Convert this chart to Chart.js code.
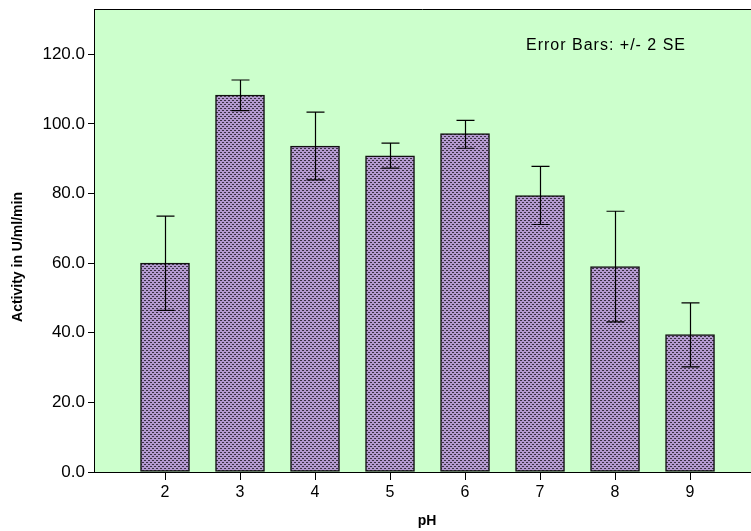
<!DOCTYPE html>
<html>
<head>
<meta charset="utf-8">
<script src="https://cdn.jsdelivr.net/npm/chart.js@4.4.1/dist/chart.umd.min.js"></script>
<style>
    html, body { margin: 0; padding: 0; background: #fff; }
    #activityChart { display: block; }
</style>
</head>
<body>
<canvas id="activityChart" width="751" height="531"></canvas>
<script>
// Chart data
const phLevels = [2, 3, 4, 5, 6, 7, 8, 9];
const activityMean = [60.0, 108.3, 93.6, 90.8, 97.2, 79.4, 59.0, 39.5];
const errorUpper = [73.5, 112.6, 103.4, 94.5, 101.0, 87.8, 74.9, 48.6];
const errorLower = [46.4, 103.8, 83.9, 87.3, 93.0, 71.1, 43.1, 30.2];
const yTickValues = [0, 20, 40, 60, 80, 100, 120];

/**
 * Build the dotted purple fill used by the bars
 */
function makeBarPattern() {
    const tile = document.createElement('canvas');
    tile.width = 4;
    tile.height = 4;
    const t = tile.getContext('2d');
    t.fillStyle = '#b49ad0';
    t.fillRect(0, 0, 4, 4);
    t.fillStyle = '#3a3042';
    t.fillRect(0, 0, 2, 1);
    t.fillRect(2, 2, 2, 1);
    return t.createPattern(tile, 'repeat');
}

// Green plot background and top frame line
const plotBackground = {
    id: 'plotBackground',
    beforeDraw(chart) {
        const { ctx, chartArea } = chart;
        ctx.save();
        ctx.fillStyle = '#ccffcc';
        ctx.fillRect(chartArea.left, chartArea.top, chartArea.right - chartArea.left, chartArea.bottom - chartArea.top);
        ctx.strokeStyle = '#000';
        ctx.lineWidth = 1;
        ctx.beginPath();
        ctx.moveTo(chartArea.left, Math.round(chartArea.top) + 0.5);
        ctx.lineTo(chartArea.right, Math.round(chartArea.top) + 0.5);
        ctx.stroke();
        ctx.restore();
    }
};

// Error bars (+/- 2 SE), titles and the note
const errorBars = {
    id: 'errorBars',
    afterDatasetsDraw(chart) {
        const { ctx, scales } = chart;
        const xs = scales.x, ys = scales.y;
        ctx.save();
        ctx.strokeStyle = '#000';
        ctx.lineWidth = 1.2;
        phLevels.forEach((ph, i) => {
            const x = Math.round(xs.getPixelForValue(ph)) + 0.5;
            const yTop = ys.getPixelForValue(errorUpper[i]);
            const yBot = ys.getPixelForValue(errorLower[i]);
            ctx.beginPath();
            ctx.moveTo(x, yTop);
            ctx.lineTo(x, yBot);
            ctx.moveTo(x - 9, yTop);
            ctx.lineTo(x + 9, yTop);
            ctx.moveTo(x - 9, yBot);
            ctx.lineTo(x + 9, yBot);
            ctx.stroke();
        });

        ctx.fillStyle = '#000';
        ctx.font = '16px "Liberation Sans", Arial, sans-serif';
        ctx.letterSpacing = '1px';
        ctx.textBaseline = 'middle';
        ctx.textAlign = 'left';
        ctx.fillText('Error Bars: +/- 2 SE', 526, 46);
        ctx.letterSpacing = '0px';

        ctx.font = 'bold 14px "Liberation Sans", Arial, sans-serif';
        ctx.textAlign = 'center';
        ctx.fillText('pH', 427, 521);

        ctx.translate(18, 257);
        ctx.rotate(-Math.PI / 2);
        ctx.fillText('Activity in U/ml/min', 0, 0);
        ctx.restore();
    }
};

const ctx = document.getElementById('activityChart').getContext('2d');

new Chart(ctx, {
    type: 'bar',
    data: {
        datasets: [{
            data: phLevels.map((ph, i) => ({ x: ph, y: activityMean[i] })),
            backgroundColor: makeBarPattern(),
            borderColor: '#111',
            borderWidth: 1.5,
            borderSkipped: false,
            barThickness: 49
        }]
    },
    options: {
        responsive: false,
        animation: false,
        devicePixelRatio: 1,
        layout: { padding: { top: 9, left: 0, right: 0, bottom: 0 } },
        plugins: {
            legend: { display: false },
            tooltip: { enabled: false }
        },
        scales: {
            x: {
                type: 'linear',
                offset: false,
                min: 1.0533,
                max: 9.813,
                afterFit: function(scale) {
                    scale.height = 59;
                    scale.paddingLeft = 0;
                    scale.paddingRight = 0;
                },
                afterBuildTicks: function(scale) {
                    scale.ticks = phLevels.map(v => ({ value: v }));
                },
                grid: {
                    offset: false,
                    drawOnChartArea: false,
                    drawTicks: true,
                    tickLength: 8,
                    color: '#000'
                },
                border: { display: true, color: '#000', width: 1 },
                ticks: {
                    color: '#000',
                    padding: 3,
                    maxRotation: 0,
                    font: { family: '"Liberation Sans", Arial, sans-serif', size: 16 },
                    callback: function(value) { return String(value); }
                }
            },
            y: {
                min: 0,
                max: 133,
                afterFit: function(scale) {
                    scale.width = 94;
                    scale.paddingTop = 0;
                    scale.paddingBottom = 0;
                },
                afterBuildTicks: function(scale) {
                    scale.ticks = yTickValues.map(v => ({ value: v }));
                },
                grid: {
                    drawOnChartArea: false,
                    drawTicks: true,
                    tickLength: 6,
                    color: '#000'
                },
                border: { display: true, color: '#000', width: 1 },
                ticks: {
                    color: '#000',
                    padding: 3,
                    font: { family: '"Liberation Sans", Arial, sans-serif', size: 17 },
                    callback: function(value) { return value.toFixed(1); }
                }
            }
        }
    },
    plugins: [plotBackground, errorBars]
});
</script>
</body>
</html>
